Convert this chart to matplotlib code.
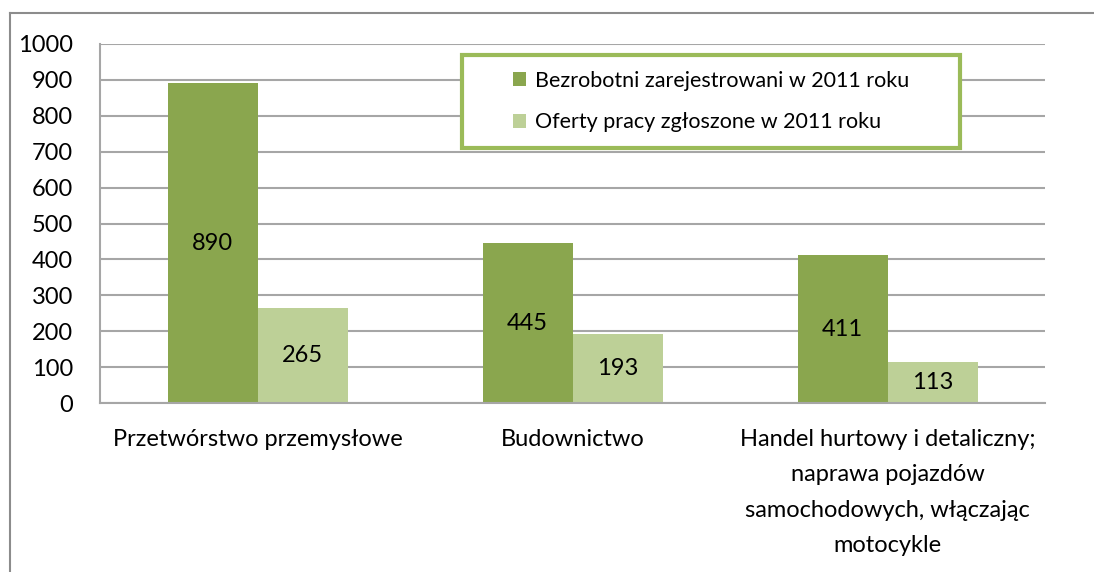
import numpy as np
import matplotlib.pyplot as plt
from matplotlib.lines import Line2D
from matplotlib.patches import Rectangle

plt.rcParams['font.family'] = ['Lato', 'DejaVu Sans']

kategorie = ["Przetwórstwo przemysłowe",
             "Budownictwo",
             "Handel hurtowy i detaliczny;\nnaprawa pojazdów\nsamochodowych, włączając\nmotocykle"]
bezrobotni = [890, 445, 411]
oferty = [265, 193, 113]
serie = ["Bezrobotni zarejestrowani w 2011 roku", "Oferty pracy zgłoszone w 2011 roku"]

W, H = 1094, 572
FS = 17
fig = plt.figure(figsize=(W / 100, H / 100), dpi=100)
ax = fig.add_axes([100 / W, 1 - 403 / H, (1045 - 100) / W, (403 - 44) / H])

x = np.arange(len(kategorie))
w = 90 / 315
b1 = ax.bar(x - w / 2, bezrobotni, w, color='#8AA64E', label=serie[0], zorder=2)
b2 = ax.bar(x + w / 2, oferty, w, color='#BDD097', label=serie[1], zorder=2)

for bars in (b1, b2):
    for r in bars:
        ax.text(r.get_x() + r.get_width() / 2, r.get_height() / 2, f"{int(r.get_height())}",
                ha='center', va='center', fontsize=FS, color='black', zorder=3)

ax.set_xlim(-0.5, len(kategorie) - 0.5)
ax.set_ylim(0, 1000)
ax.set_yticks(range(0, 1001, 100))
ax.yaxis.grid(True, color='#A6A6A6', linewidth=1.5, zorder=0)
ax.set_xticks(x)
ax.set_xticklabels(kategorie, fontsize=FS, linespacing=1.85, va='top')
ax.tick_params(axis='both', length=0, labelsize=FS)
ax.tick_params(axis='x', pad=18.5)
ax.tick_params(axis='y', pad=19.5)
for s in ['top', 'right']:
    ax.spines[s].set_visible(False)
for s in ['left', 'bottom']:
    ax.spines[s].set_color('#A6A6A6')
    ax.spines[s].set_linewidth(1.5)

# legenda z osobna ramka (szersza niz tresc, jak w Excelu)
def ax_xy(px, py):
    return (px - 100) / 945, (403 - py) / 359

x0, y0 = ax_xy(462, 148)
x1, y1 = ax_xy(960, 55)
ax.add_patch(Rectangle((x0, y0), x1 - x0, y1 - y0, transform=ax.transAxes,
                       facecolor='white', edgecolor='#9BBB59', linewidth=3, zorder=4,
                       clip_on=False))
leg = ax.legend(loc='center', bbox_to_anchor=((x0 + x1) / 2, (y0 + y1) / 2),
                fontsize=15.5, frameon=False, handlelength=0.6,
                handleheight=0.6, handletextpad=0.4, labelspacing=1.0,
                borderaxespad=0)
leg.set_zorder(5)

# ramka wykresu
fig.add_artist(Line2D([10 / W, 1], [1 - 13 / H, 1 - 13 / H], color='#8C8C8C', linewidth=1.5))
fig.add_artist(Line2D([10 / W, 10 / W], [0, 1 - 13 / H], color='#8C8C8C', linewidth=1.5))

fig.savefig('out.png', dpi=100)
